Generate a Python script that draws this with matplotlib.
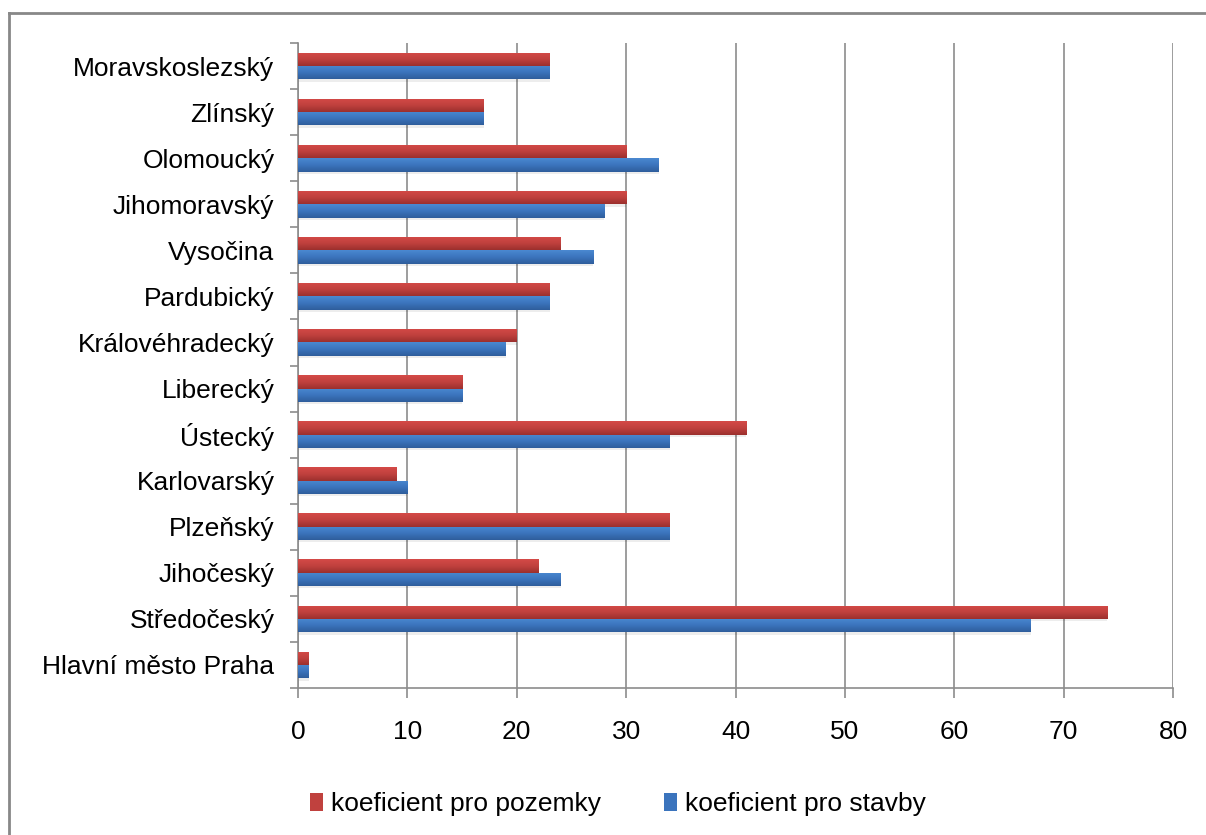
import numpy as np
import matplotlib.pyplot as plt
from matplotlib.colors import LinearSegmentedColormap
from matplotlib.lines import Line2D
from matplotlib.patches import Patch

regions = ["Hlavní město Praha", "Středočeský", "Jihočeský", "Plzeňský",
           "Karlovarský", "Ústecký", "Liberecký", "Královéhradecký",
           "Pardubický", "Vysočina", "Jihomoravský", "Olomoucký",
           "Zlínský", "Moravskoslezský"]
pozemky = [1, 74, 22, 34, 9, 41, 15, 20, 23, 24, 30, 30, 17, 23]
stavby = [1, 67, 24, 34, 10, 34, 15, 19, 23, 27, 28, 33, 17, 23]
xticks = [0, 10, 20, 30, 40, 50, 60, 70, 80]

plt.rcParams['font.family'] = ['Liberation Sans', 'DejaVu Sans']

fig = plt.figure(figsize=(12.06, 8.35), dpi=100)
ax = fig.add_axes([298 / 1206, 1 - 688 / 835, 875 / 1206, 645 / 835])

grey = '#8c8c8c'
y = np.arange(len(regions))
h = 0.29
red_cm = LinearSegmentedColormap.from_list('r', ['#d44a47', '#c0413e', '#9c302e'])
blue_cm = LinearSegmentedColormap.from_list('b', ['#4a88d0', '#3b74bd', '#2f5e9c'])
grad = np.linspace(0, 1, 32).reshape(-1, 1)

# soft shadows under the bars
ax.barh(y + h / 2 - 0.05, pozemky, height=h, color='#000000', alpha=0.07, zorder=2)
ax.barh(y - h / 2 - 0.05, stavby, height=h, color='#000000', alpha=0.07, zorder=2)
red_bars = ax.barh(y + h / 2, pozemky, height=h, color='#c0413e', zorder=3)
blue_bars = ax.barh(y - h / 2, stavby, height=h, color='#3b74bd', zorder=3)

# vertical gradient fill on each bar
for bars, cm in [(red_bars, red_cm), (blue_bars, blue_cm)]:
    for b in bars:
        x0, y0, w, hh = b.get_x(), b.get_y(), b.get_width(), b.get_height()
        im = ax.imshow(grad, cmap=cm, aspect='auto', origin='upper',
                       extent=[x0, x0 + w, y0, y0 + hh], zorder=4)
        im.set_clip_path(b)

ax.set_xlim(0, 80)
ax.set_ylim(-0.5, len(regions) - 0.5)
ax.set_xticks(xticks)
ax.set_yticks(y)
ax.set_yticklabels(regions)
ax.set_yticks(np.arange(-0.5, len(regions)), minor=True)
ax.grid(axis='x', color=grey, linewidth=1.2, zorder=1)
ax.set_axisbelow(True)

for s in ['top', 'right']:
    ax.spines[s].set_visible(False)
for s in ['left', 'bottom']:
    ax.spines[s].set_color(grey)
    ax.spines[s].set_linewidth(1.2)

ax.tick_params(axis='y', which='major', length=0, pad=17, labelsize=19)
ax.tick_params(axis='y', which='minor', length=6, color=grey, width=1.2)
ax.tick_params(axis='x', length=7, color=grey, width=1.2, pad=16, labelsize=19)

handles = [Patch(facecolor='#c0413e'), Patch(facecolor='#3b74bd')]
fig.legend(handles, ['koeficient pro pozemky', 'koeficient pro stavby'],
           loc='center', bbox_to_anchor=(618 / 1206, 1 - 804 / 835), ncol=2,
           frameon=False, fontsize=19, handlelength=0.5, handleheight=0.65,
           handletextpad=0.3, columnspacing=2.4)

# outer chart-area border (top and left)
fig.add_artist(Line2D([9 / 1206, 1], [1 - 13 / 835, 1 - 13 / 835],
                      transform=fig.transFigure, color='#888888', linewidth=2))
fig.add_artist(Line2D([9 / 1206, 9 / 1206], [0, 1 - 13 / 835],
                      transform=fig.transFigure, color='#888888', linewidth=2))

fig.savefig('out.png', dpi=100)
